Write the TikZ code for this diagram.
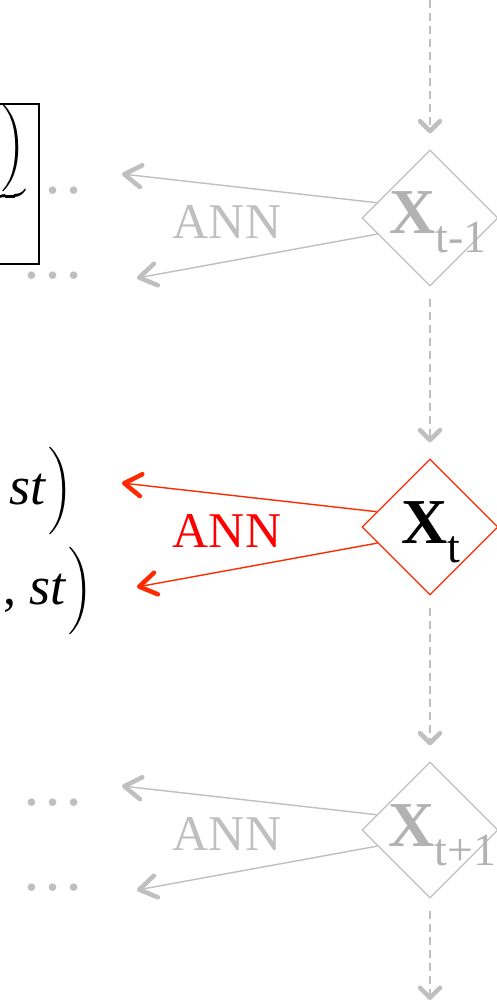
\RequirePackage{fix-cm}
\documentclass[tikz,border=0pt]{standalone}
\usepackage{amsmath}
\usepackage{fontspec}
\setmainfont{Liberation Serif}
\usepackage{tikz}
\usetikzlibrary{arrows.meta,shapes.geometric}
\definecolor{fadegray}{RGB}{191,191,191}
\definecolor{labelgray}{RGB}{178,178,178}
\definecolor{annred}{RGB}{255,0,0}
\definecolor{edgered}{RGB}{255,42,0}
\tikzset{
  state/.style={diamond, aspect=1, draw=fadegray, line width=1.3pt, fill=white,
    inner sep=0pt, minimum size=136pt},
  ann/.style={-{Straight Barb[length=17pt,width=22pt,line width=4.5pt,round]},
    line width=1.4pt, fadegray},
  flow/.style={-{Straight Barb[length=10pt,width=20pt,line width=4.5pt,round]},
    dash pattern=on 8pt off 5pt, line width=2pt, fadegray, shorten >=16pt},
  annlabel/.style={font=\fontsize{50}{60}\selectfont, text=fadegray, inner sep=0pt},
  xlabel/.style={font=\fontsize{64}{76}\selectfont\bfseries, text=labelgray,
    inner sep=0pt, anchor=base west},
  more/.style={font=\fontsize{63}{75}\selectfont, text=fadegray, inner sep=0pt, anchor=base},
  formula/.style={font=\fontsize{44}{53}\selectfont, inner sep=0pt, anchor=base east}
}
\newcommand{\lowsub}[1]{\raisebox{-19pt}{\fontsize{46}{55}\selectfont\mdseries #1}}
\newcommand{\stvar}{{\fontsize{54}{64}\selectfont\textit{st}}}
\newcommand{\tallclose}{\scalebox{1.25}[1.17]{$\left.\vrule height 46pt depth 24pt width 0pt\right)$}}

\begin{document}
\begin{tikzpicture}[x=1pt,y=-1pt]
\useasboundingbox (0,0) rectangle (497,1004);

% time steps
\node[state] (xprev) at (430,218) {};
\node[state, draw=edgered] (xcur) at (430,527) {};
\node[state] (xnext) at (430,830) {};
\node[xlabel] (lprev) at (389,233) {X\lowsub{t-1}};
\node[xlabel, text=black] (lcur) at (401,543) {X\lowsub{t}};
\node[xlabel] (lnext) at (388,846) {X\lowsub{t+1}};

% flow from step to step
\coordinate (top) at (430,0);
\coordinate (bottom) at (430,1000);
\draw[flow] (top) -- (xprev);
\draw[flow, shorten <=12pt] (xprev) -- (xcur);
\draw[flow, shorten <=12pt] (xcur) -- (xnext);
\draw[flow, shorten <=12pt, shorten >=0pt] (xnext) -- (bottom);

% outputs of t-1
\node[more] (mprevu) at ([shift={(-377,-25)}]xprev.center) {\textellipsis};
\node[more] (mprevd) at ([shift={(-377,60)}]xprev.center) {\textellipsis};
\node[draw=black, line width=2pt, fill=white, minimum width=240pt, minimum height=160pt,
  anchor=north east] (ctx) at (40,103) {};
\node[formula] (ctxf) at (26,161) {$\underbrace{\mbox{\stvar}\tallclose}$};
\coordinate (pu) at ([shift={(-308,-44)}]xprev.center);
\coordinate (pd) at ([shift={(-293,60)}]xprev.center);
\draw[ann] (xprev.164) -- (pu);
\draw[ann] (xprev.197) -- (pd);
\node[annlabel] (aprev) at ([shift={(-203,4)}]xprev.center) {ANN};

% outputs of t
\node[formula] (fup) at (73,504) {\stvar\tallclose};
\node[formula] (fdn) at (93,604) {{\fontsize{52}{62}\selectfont, }\stvar\tallclose};
\coordinate (cu) at ([shift={(-308,-44)}]xcur.center);
\coordinate (cd) at ([shift={(-293,60)}]xcur.center);
\draw[ann, edgered] (xcur.164) -- (cu);
\draw[ann, edgered] (xcur.197) -- (cd);
\node[annlabel, text=annred] (acur) at ([shift={(-203,4)}]xcur.center) {ANN};

% outputs of t+1
\node[more] (mnextu) at ([shift={(-377,-25)}]xnext.center) {\textellipsis};
\node[more] (mnextd) at ([shift={(-377,60)}]xnext.center) {\textellipsis};
\coordinate (nu) at ([shift={(-308,-44)}]xnext.center);
\coordinate (nd) at ([shift={(-293,60)}]xnext.center);
\draw[ann] (xnext.164) -- (nu);
\draw[ann] (xnext.197) -- (nd);
\node[annlabel] (anext) at ([shift={(-203,4)}]xnext.center) {ANN};
\end{tikzpicture}
\end{document}
